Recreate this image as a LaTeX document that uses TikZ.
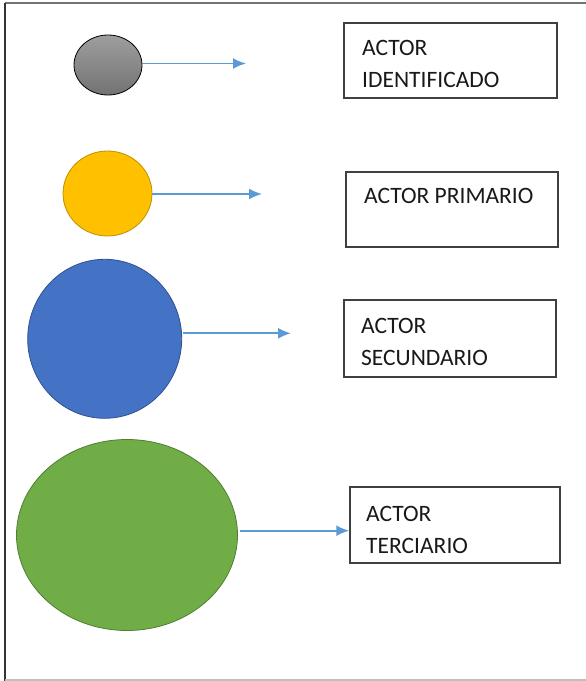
\documentclass[tikz,border=0pt]{standalone}
\usepackage{fontspec}
\setmainfont{Carlito}
\usetikzlibrary{arrows.meta,shapes.geometric}
\definecolor{arrowblue}{HTML}{5B9BD5}
\definecolor{boxline}{HTML}{404040}
\definecolor{ygold}{HTML}{FFC000}
\definecolor{ygoldline}{HTML}{C08F00}
\definecolor{bblue}{HTML}{4472C4}
\definecolor{bblueline}{HTML}{2F528F}
\definecolor{ggreen}{HTML}{70AD47}
\definecolor{ggreenline}{HTML}{507E32}
\tikzset{
  blob/.style={ellipse, inner sep=0pt, line width=0.8pt},
  labelbox/.style={rectangle, draw=boxline, line width=1.5pt, inner sep=0pt, fill=white},
  labeltext/.style={anchor=base west, inner sep=0pt, font=\fontsize{23.5}{28}\selectfont, text=black!90},
  conn/.style={draw=arrowblue, line width=1.8pt, -{Latex[length=13pt,width=11pt]}},
}
\begin{document}
\begin{tikzpicture}[x=1pt,y=-1pt]
\useasboundingbox (0,0) rectangle (586,681);
% frame
\draw[draw=black!55, line width=1.8pt] (5,3) -- (586,3);
\draw[draw=black!80, line width=1.8pt] (5,3) -- (5,681);
\draw[draw=black!25, line width=1.8pt] (5,680) -- (586,680);
% ellipses
\node[blob, draw=black, top color=black!38, bottom color=black!55, minimum width=68pt, minimum height=60pt] (e1) at (108,65) {};
\node[blob, draw=ygoldline, fill=ygold, minimum width=89pt, minimum height=85pt] (e2) at (107.5,193.5) {};
\node[blob, draw=bblueline, fill=bblue, minimum width=154pt, minimum height=159pt] (e3) at (104.7,338.8) {};
\node[blob, draw=ggreenline, fill=ggreen, minimum width=221pt, minimum height=191pt] (e4) at (127,535) {};
% boxes
\node[labelbox, minimum width=213pt, minimum height=75pt] (b1) at (450.5,60.5) {};
\node[labelbox, minimum width=212pt, minimum height=75pt] (b2) at (452,209.5) {};
\node[labelbox, minimum width=212pt, minimum height=77pt] (b3) at (450,338.5) {};
\node[labelbox, minimum width=210pt, minimum height=76pt] (b4) at (455,525) {};
% texts
\node[labeltext] (t1a) at (362,55) {ACTOR};
\node[labeltext] (t1b) at (362,87) {IDENTIFICADO};
\node[labeltext] (t2a) at (364,203) {ACTOR PRIMARIO};
\node[labeltext] (t3a) at (361,333) {ACTOR};
\node[labeltext] (t3b) at (361,365) {SECUNDARIO};
\node[labeltext] (t4a) at (366,521) {ACTOR};
\node[labeltext] (t4b) at (366,553) {TERCIARIO};
% arrow ends
\coordinate (a1) at (246,63.5);
\coordinate (a2) at (262,194);
\coordinate (a3) at (291,333.3);
\coordinate (a4) at (349,530.7);
\draw[conn] (e1.east |- a1) -- (a1);
\draw[conn] (e2.east |- a2) -- (a2);
\draw[conn] ([xshift=1pt]e3.east |- a3) -- (a3);
\draw[conn] ([xshift=2pt]e4.east |- a4) -- (b4.west |- a4);
\end{tikzpicture}
\end{document}
